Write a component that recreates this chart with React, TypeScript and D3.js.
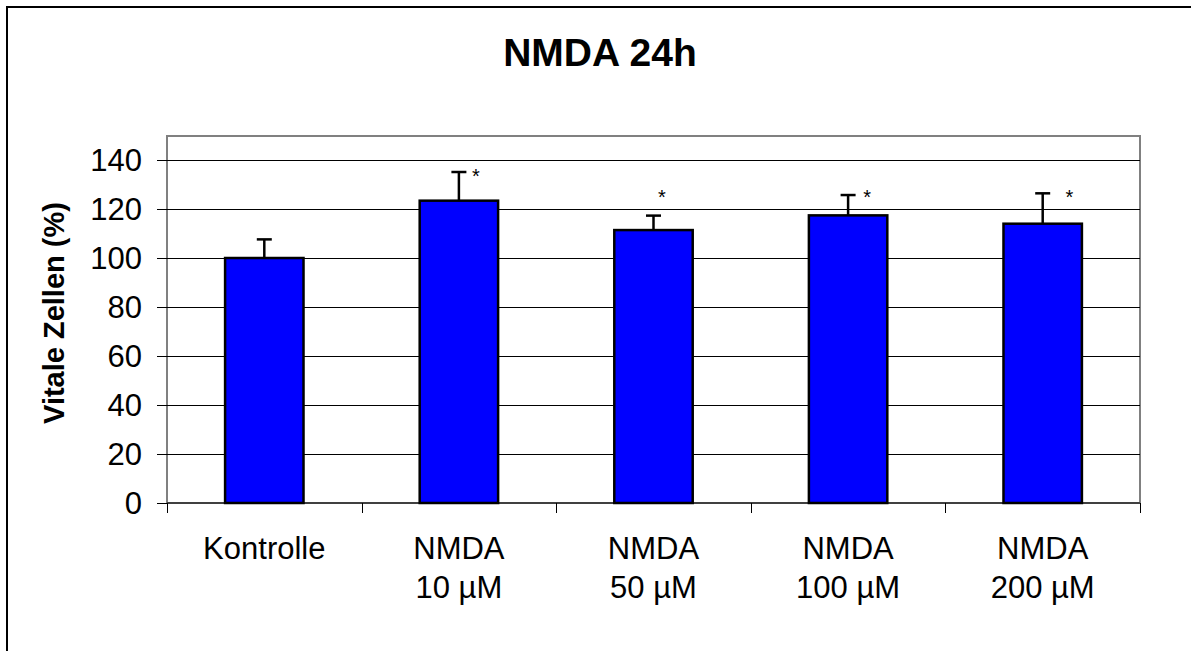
import React from "react";
import * as d3 from "d3";

const title = "NMDA 24h";
const yAxisLabel = "Vitale Zellen (%)";
const categories: string[][] = [
  ["Kontrolle"],
  ["NMDA", "10 µM"],
  ["NMDA", "50 µM"],
  ["NMDA", "100 µM"],
  ["NMDA", "200 µM"],
];
const values = [100, 123.4, 111.4, 117.4, 114.0];
const errors = [7.6, 11.7, 5.9, 8.3, 12.4];
const significant = [false, true, true, true, true];
const starLevels = [0, 135.1, 126.5, 126.5, 126.5];
const yTicks = [0, 20, 40, 60, 80, 100, 120, 140];

const W = 1191;
const H = 651;
const plot = { left: 167, right: 1140, top: 136, bottom: 503 };
const starDx = [0, 17, 8.5, 19, 26.7];

export default function App() {
  const y = d3.scaleLinear().domain([0, 140]).range([plot.bottom, 160]);
  const x = d3
    .scaleBand<number>()
    .domain(categories.map((_, i) => i))
    .range([plot.left, plot.right])
    .paddingInner(0)
    .paddingOuter(0);
  const bw = x.bandwidth();
  const barW = bw * 0.403;
  const font = "Liberation Sans, Arial, sans-serif";
  const ry = (v: number) => Math.round(y(v)) + 0.5;

  return (
    <div style={{ position: "fixed", left: 0, top: 0 }}>
      <svg width={W} height={H} style={{ display: "block", background: "#fff" }}>
        <rect x={7} y={7} width={1300} height={800} fill="#fff" stroke="#000" strokeWidth={2} />
        <text x={600} y={66} textAnchor="middle" fontFamily={font} fontWeight="bold" fontSize={39}>
          {title}
        </text>
        {/* plot area border */}
        <rect
          x={plot.left}
          y={plot.top}
          width={plot.right - plot.left}
          height={plot.bottom - plot.top}
          fill="#fff"
          stroke="#808080"
          strokeWidth={2}
        />
        {/* gridlines */}
        {yTicks.filter((t) => t > 0).map((t) => (
          <line key={"g" + t} x1={plot.left} x2={plot.right} y1={ry(t)} y2={ry(t)} stroke="#000" strokeWidth={1} />
        ))}
        {/* y ticks + labels */}
        {yTicks.map((t) => (
          <g key={"t" + t}>
            <line x1={157} x2={plot.left} y1={ry(t)} y2={ry(t)} stroke="#000" strokeWidth={1} />
            <text x={142} y={y(t) + 11} textAnchor="end" fontFamily={font} fontSize={31}>
              {t}
            </text>
          </g>
        ))}
        {/* x axis */}
        <line x1={plot.left} x2={plot.right} y1={plot.bottom} y2={plot.bottom} stroke="#404040" strokeWidth={2} />
        {d3.range(categories.length + 1).map((i) => {
          const xx = Math.round(plot.left + i * bw) + 0.5;
          return <line key={"xt" + i} x1={xx} x2={xx} y1={plot.bottom} y2={plot.bottom + 10} stroke="#000" strokeWidth={1} />;
        })}
        {/* bars */}
        {values.map((v, i) => {
          const cx = (x(i) as number) + bw / 2;
          return (
            <g key={"b" + i}>
              <line x1={cx} x2={cx} y1={y(v)} y2={y(v + errors[i])} stroke="#000" strokeWidth={2.5} />
              <line x1={cx - 7.5} x2={cx + 7.5} y1={y(v + errors[i])} y2={y(v + errors[i])} stroke="#000" strokeWidth={2.5} />
              <rect
                x={cx - barW / 2}
                y={y(v)}
                width={barW}
                height={y(0) - y(v)}
                fill="#0000FF"
                stroke="#000"
                strokeWidth={2.5}
              />
              {significant[i] && (
                <text x={cx + starDx[i]} y={y(starLevels[i]) + 11} textAnchor="middle" fontFamily={font} fontSize={20}>
                  *
                </text>
              )}
            </g>
          );
        })}
        {/* category labels */}
        {categories.map((lines, i) => {
          const cx = (x(i) as number) + bw / 2;
          return (
            <text key={"c" + i} textAnchor="middle" fontFamily={font} fontSize={31}>
              {lines.map((l, j) => (
                <tspan key={j} x={cx} y={559 + j * 39}>
                  {l}
                </tspan>
              ))}
            </text>
          );
        })}
        {/* y label */}
        <text
          transform="translate(64,313) rotate(-90)"
          textAnchor="middle"
          fontFamily={font}
          fontWeight="bold"
          fontSize={29}
        >
          {yAxisLabel}
        </text>
      </svg>
    </div>
  );
}
